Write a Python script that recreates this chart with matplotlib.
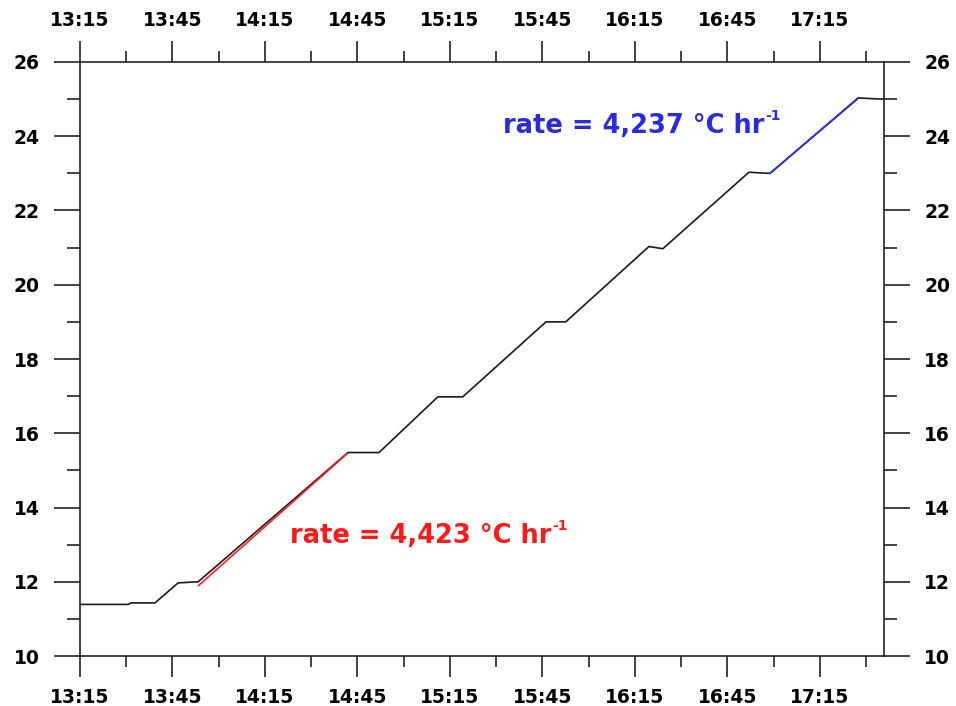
import numpy as np
import matplotlib
matplotlib.use("Agg")
import matplotlib.pyplot as plt
from matplotlib.ticker import FixedLocator, FuncFormatter

# temperature log (clock time, deg C)
times = ["13:15:00", "13:30:35", "13:31:30", "13:39:20", "13:46:50", "13:53:20",
         "14:41:55", "14:52:00", "15:11:05", "15:19:10", "15:46:10", "15:52:35",
         "16:19:35", "16:24:05", "16:52:00", "16:58:50", "17:27:25", "17:35:30"]
temps = [11.39, 11.39, 11.43, 11.43, 11.97, 12.0,
         15.48, 15.48, 16.98, 16.98, 19.0, 19.0,
         21.03, 20.97, 23.03, 23.0, 25.03, 25.0]

# linear fits (start time, start temp, end time, rate in degC per hour)
red_fit = ("13:53:30", 11.9, "14:41:30", 4.423)
blue_fit = ("16:58:50", 23.0, "17:27:00", 4.237)
red_label = "rate = 4,423 °C hr"
blue_label = "rate = 4,237 °C hr"
unit_sup = "-1"

x_range = ("13:15:00", "17:35:50")
y_range = (10, 26)


def to_min(s):
    h, m, sec = map(int, s.split(":"))
    return h * 60 + m + sec / 60


def fit_line(fit):
    t0, y0, t1, rate = fit
    xs = np.array([to_min(t0), to_min(t1)])
    return xs, y0 + rate * (xs - xs[0]) / 60


def rate_text(ax, xy, label, color):
    t = ax.text(xy[0], xy[1], label, transform=ax.transAxes, color=color,
                fontsize=18.5, fontweight="bold", ha="left", va="baseline")
    ax.annotate(unit_sup, xy=(1.0, 1.0), xycoords=t, xytext=(0.5, 3),
                textcoords="offset points", color=color, fontsize=10,
                fontweight="bold", ha="left", va="top")


plt.rcParams["font.family"] = "DejaVu Sans"

fig = plt.figure(figsize=(9.56, 7.06), dpi=100)
ax = fig.add_axes([0.0837, 0.0708, 0.841, 0.8414])

x = [to_min(t) for t in times]
ax.plot(x, temps, color="#1a1a1a", lw=1.2, zorder=2)

xr, yr = fit_line(red_fit)
ax.plot(xr, yr, color="#ff2020", lw=1.2, zorder=3)
xb, yb = fit_line(blue_fit)
ax.plot(xb, yb, color="#3030e8", lw=1.3, zorder=3)

rate_text(ax, (0.261, 0.190), red_label, "#ff1a1a")
rate_text(ax, (0.526, 0.880), blue_label, "#2a2ae0")

x0, x1 = to_min(x_range[0]), to_min(x_range[1])
ax.set_xlim(x0, x1)
ax.set_ylim(*y_range)

major_x = np.arange(x0, x1 + 1, 30)
minor_x = np.arange(x0 + 15, x1 + 1, 30)
ax.xaxis.set_major_locator(FixedLocator(major_x))
ax.xaxis.set_minor_locator(FixedLocator(minor_x))
ax.xaxis.set_major_formatter(FuncFormatter(lambda v, p: f"{int(v // 60)}:{int(round(v % 60)):02d}"))
ax.yaxis.set_major_locator(FixedLocator(np.arange(10, 27, 2)))
ax.yaxis.set_minor_locator(FixedLocator(np.arange(11, 26, 2)))

ax.tick_params(axis="x", which="major", direction="out", length=15, width=1.2,
               top=True, bottom=True, labeltop=True, labelbottom=True, pad=8,
               labelsize=13.5, color="#222222")
ax.tick_params(axis="x", which="minor", direction="out", length=8, width=1.2,
               top=True, bottom=True, color="#222222")
ax.tick_params(axis="y", which="major", direction="out", length=19, width=1.2,
               left=True, right=True, labelleft=True, labelright=True, pad=10,
               labelsize=13.5, color="#222222")
ax.tick_params(axis="y", which="minor", direction="out", length=9.5, width=1.2,
               left=True, right=True, color="#222222")
for lab in ax.get_xticklabels() + ax.get_yticklabels():
    lab.set_fontweight("bold")

for sp in ax.spines.values():
    sp.set_linewidth(1.2)
    sp.set_color("#222222")

fig.savefig("out.png", dpi=100)
